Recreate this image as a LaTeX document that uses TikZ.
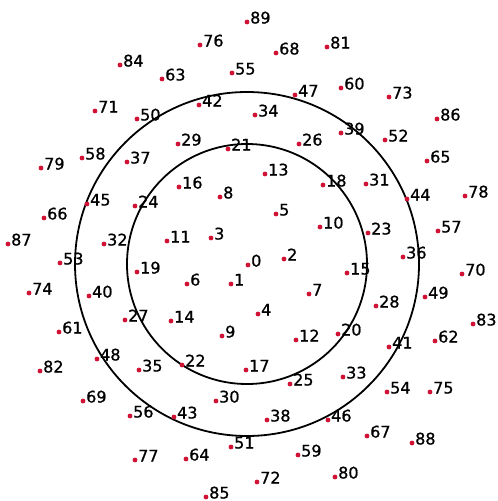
\documentclass[tikz,border=0pt]{standalone}
\usepackage{fontspec}
\setmainfont{DejaVu Sans}
\newfontfamily\numfont{DejaVu Sans}[FakeBold=1]
\definecolor{dotred}{RGB}{208,18,52}
\begin{document}
\begin{tikzpicture}[x=1pt,y=-1pt,
  dot/.style={circle,fill=dotred,inner sep=0pt,minimum size=4.8pt},
  num/.style={anchor=base west,inner sep=0pt,font=\numfont\fontsize{16}{17}\selectfont},
  ring/.style={circle,draw=black,line width=1.8pt,inner sep=0pt}]
\useasboundingbox (0,0) rectangle (498,501);
\node[ring,minimum size=240pt] (inner) at (247,264) {};
\node[ring,minimum size=344pt] (outer) at (247,264) {};
\foreach \n/\x/\y in {
0/248/265,1/231/284,2/284/259,3/211/238,4/258/314,5/276/214,6/187/284,7/309/294,8/220/197,9/222/336,
10/320/227,11/167/241,12/296/340,13/265/174,14/171/321,15/347/273,16/179/187,17/246/370,18/323/185,19/137/272,
20/338/334,21/228/149,22/182/365,23/368/233,24/135/206,25/290/384,26/299/144,27/125/320,28/376/306,29/178/144,
30/216/401,31/366/184,32/104/244,33/343/377,34/255/115,35/139/370,36/403/257,37/127/162,38/267/420,39/341/133,
40/89/296,41/389/347,42/199/105,43/174/417,44/407/199,45/87/204,46/328/420,47/295/95,48/97/359,49/425/297,
50/137/119,51/231/447,52/385/140,53/60/263,54/387/392,55/232/73,56/130/416,57/438/231,58/82/158,59/298/455,
60/341/88,61/59/332,62/435/341,63/162/79,64/186/459,65/427/161,66/44/218,67/367/436,68/276/53,69/83/401,
70/462/274,71/95/111,72/257/482,73/389/97,74/29/293,75/430/392,76/200/45,77/135/460,78/465/196,79/41/168,
80/335/477,81/327/47,82/40/371,83/473/324,84/120/65,85/206/497,86/437/119,87/8/244,88/412/443,89/247/22}
{
  \node[dot] (p\n) at (\x,\y) {};
  \node[num] (t\n) at ([xshift=3pt,yshift=-1.5pt]p\n.center) {\n};
}
\end{tikzpicture}
\end{document}
